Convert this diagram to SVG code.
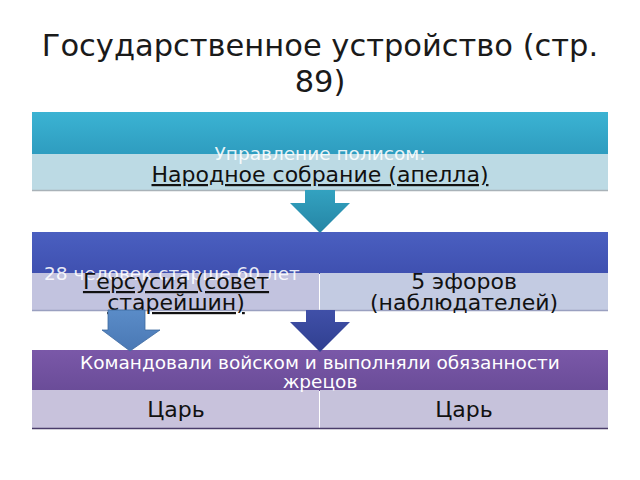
<svg xmlns="http://www.w3.org/2000/svg" width="640" height="480" viewBox="0 0 640 480">
<defs>
<linearGradient id="g1" x1="0" y1="0" x2="0" y2="1"><stop offset="0" stop-color="#3bb3d3"/><stop offset="1" stop-color="#2e9cbf"/></linearGradient>
<linearGradient id="g2" x1="0" y1="0" x2="0" y2="1"><stop offset="0" stop-color="#4a5fc0"/><stop offset="1" stop-color="#3f50b0"/></linearGradient>
<linearGradient id="g3" x1="0" y1="0" x2="0" y2="1"><stop offset="0" stop-color="#7a58a8"/><stop offset="1" stop-color="#6a4c98"/></linearGradient>
<linearGradient id="ga1" x1="0" y1="0" x2="0" y2="1"><stop offset="0" stop-color="#33a2c0"/><stop offset="1" stop-color="#2585a5"/></linearGradient>
<linearGradient id="ga2" x1="0" y1="0" x2="0" y2="1"><stop offset="0" stop-color="#5a8cc8"/><stop offset="1" stop-color="#4a78b4"/></linearGradient>
<linearGradient id="ga3" x1="0" y1="0" x2="0" y2="1"><stop offset="0" stop-color="#4050a8"/><stop offset="1" stop-color="#303f90"/></linearGradient>
</defs>
<style>
text{font-family:"DejaVu Sans","Noto Sans",sans-serif}
.t{font-size:30.5px;fill:#1a1a1a;text-anchor:middle}
.h{font-size:18.5px;fill:#ffffff}
.c{font-size:22px;fill:#111111;text-anchor:middle}
.u{text-decoration:underline}
</style>
<text class="t" x="320" y="56">Государственное устройство (стр.</text>
<text class="t" x="320" y="92">89)</text>

<g id="box1">
<rect x="32" y="112" width="576" height="43" fill="url(#g1)"/>
<rect x="32" y="154" width="576" height="36" fill="#bcdae4"/>
<line x1="32" y1="190.5" x2="608" y2="190.5" stroke="#a9b2b8" stroke-width="1.5"/>
<text class="h" x="320" y="160" text-anchor="middle" fill-opacity="0.9">Управление полисом:</text>
<text class="c u" x="320" y="182">Народное собрание (апелла)</text>
</g>

<g id="box2">
<rect x="32" y="232" width="576" height="42" fill="url(#g2)"/>
<rect x="32" y="273" width="287" height="37" fill="#c2c3df"/>
<rect x="320" y="273" width="288" height="37" fill="#c3cbe2"/>
<line x1="32" y1="310.5" x2="608" y2="310.5" stroke="#9aa0c0" stroke-width="1.5"/>
<text class="h" x="44" y="280" fill-opacity="0.9">28 человек старше 60 лет</text>
<text class="c u" x="176" y="289">Герсусия (совет</text>
<text class="c u" x="176" y="310">старейшин)</text>
<text class="c" x="464" y="289">5 эфоров</text>
<text class="c" x="464" y="310">(наблюдателей)</text>
</g>

<g id="box3">
<rect x="32" y="350" width="576" height="41" fill="url(#g3)"/>
<rect x="32" y="390" width="287" height="38" fill="#c8c2dc"/>
<rect x="320" y="390" width="288" height="38" fill="#c6c2db"/>
<line x1="32" y1="428.5" x2="608" y2="428.5" stroke="#4a3c6a" stroke-width="1.5"/>
<text class="h" x="320" y="369" text-anchor="middle">Командовали войском и выполняли обязанности</text>
<text class="h" x="320" y="388" text-anchor="middle">жрецов</text>
<text class="c" x="176" y="417">Царь</text>
<text class="c" x="464" y="417">Царь</text>
</g>

<g id="connectors">
<polygon points="305,190 335,190 335,203 350,203 320,233 290,203 305,203" fill="url(#ga1)"/>
<polygon points="108,310 145,310 145,330 160,330 130,351 102,330 108,330" fill="url(#ga2)" stroke="#3e6aa0" stroke-width="0.8"/>
<polygon points="306,310 335,310 335,322 350,322 320,352 290,322 306,322" fill="url(#ga3)"/>
</g>
</svg>
